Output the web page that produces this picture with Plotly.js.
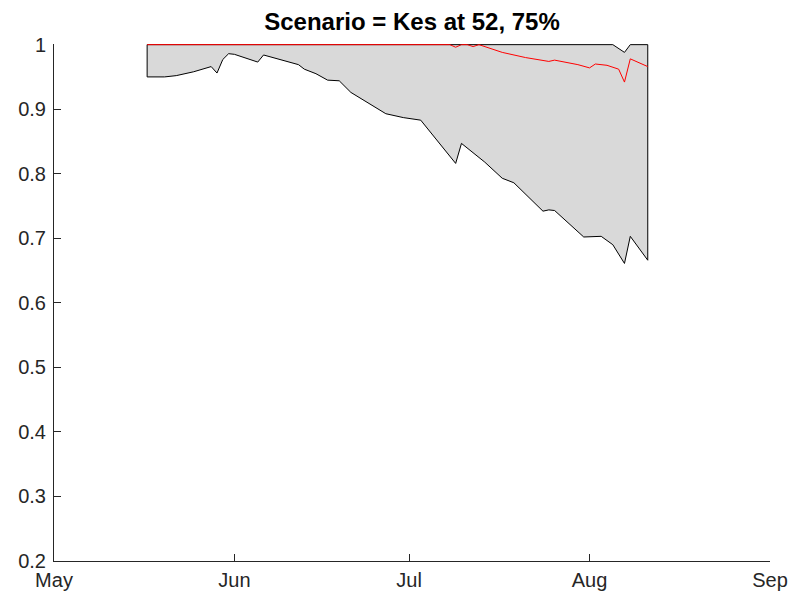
<!DOCTYPE html>
<html>
<head>
<meta charset="utf-8">
<script src="https://cdn.plot.ly/plotly-3.0.1.min.js"></script>
<style>html,body{margin:0;padding:0;background:#fff;}#chart{width:791px;height:601px;}</style>
</head>
<body>
<div id="chart"></div>
<script>
// Lower bound of the shaded band (black line)
var lowerDates = ['2020-05-17','2020-05-20','2020-05-22','2020-05-25','2020-05-28','2020-05-29','2020-05-30','2020-05-31','2020-06-01','2020-06-05','2020-06-06','2020-06-12','2020-06-13','2020-06-15','2020-06-17','2020-06-19','2020-06-21','2020-06-26','2020-06-27','2020-06-30','2020-07-03','2020-07-09','2020-07-10','2020-07-14','2020-07-17','2020-07-19','2020-07-24','2020-07-25','2020-07-26','2020-07-31','2020-08-03','2020-08-05','2020-08-07','2020-08-08','2020-08-11'];
var lowerValues = [0.950,0.950,0.952,0.958,0.966,0.956,0.977,0.986,0.985,0.973,0.984,0.969,0.962,0.955,0.945,0.944,0.926,0.898,0.893,0.887,0.883,0.816,0.847,0.818,0.793,0.786,0.742,0.744,0.743,0.702,0.703,0.690,0.661,0.703,0.666];
// Upper bound of the shaded band
var upperDates = ['2020-05-17','2020-08-05','2020-08-07','2020-08-08','2020-08-11'];
var upperValues = [1.000,1.000,0.988,1.000,1.000];
// Red line
var redDates = ['2020-05-17','2020-07-08','2020-07-09','2020-07-10','2020-07-11','2020-07-12','2020-07-13','2020-07-17','2020-07-21','2020-07-25','2020-07-26','2020-07-30','2020-08-01','2020-08-02','2020-08-04','2020-08-06','2020-08-07','2020-08-08','2020-08-11'];
var redValues = [1.000,1.000,0.996,1.000,1.000,0.997,1.000,0.988,0.980,0.974,0.976,0.969,0.964,0.970,0.968,0.962,0.942,0.978,0.966];
// Axis ticks
var xTickVals = ['2020-05-01','2020-06-01','2020-07-01','2020-08-01','2020-09-01'];
var xTickText = ['May','Jun','Jul','Aug','Sep'];
var yTickVals = [0.2,0.3,0.4,0.5,0.6,0.7,0.8,0.9,1];
var yTickText = ['0.2','0.3','0.4','0.5','0.6','0.7','0.8','0.9','1'];
var titleText = 'Scenario = Kes at 52, 75%';

// Build the closed polygon: lower bound forward, upper bound backward
var polyX = lowerDates.concat(upperDates.slice().reverse());
var polyY = lowerValues.concat(upperValues.slice().reverse());
polyX.push(lowerDates[0]);
polyY.push(lowerValues[0]);

var axisColor = '#262626';
var fontFam = 'Liberation Sans, Arial, Helvetica, sans-serif';
var traces = [
  {x: polyX, y: polyY, type: 'scatter', mode: 'lines', fill: 'toself', fillcolor: '#d9d9d9',
   line: {color: '#000000', width: 1}, hoverinfo: 'skip', showlegend: false},
  {x: redDates, y: redValues, type: 'scatter', mode: 'lines',
   line: {color: '#ff0000', width: 1}, showlegend: false}
];
var layout = {
  width: 791, height: 601,
  margin: {l: 54, r: 21, t: 44, b: 40},
  paper_bgcolor: '#ffffff', plot_bgcolor: '#ffffff',
  showlegend: false,
  title: {text: '<b>' + titleText + '</b>', font: {family: fontFam, size: 24, color: '#000000'},
          x: 0.5, xref: 'paper', xanchor: 'center', y: 1 - 22/601, yref: 'container', yanchor: 'middle'},
  xaxis: {type: 'date', range: ['2020-05-01', '2020-09-01'], tickvals: xTickVals, ticktext: xTickText,
          showgrid: false, zeroline: false, showline: true, linecolor: axisColor, linewidth: 1,
          ticks: 'inside', ticklen: 7, tickcolor: axisColor, tickwidth: 1, ticklabelstandoff: 1,
          tickfont: {family: fontFam, size: 20, color: axisColor}},
  yaxis: {range: [0.2, 1.001], tickvals: yTickVals, ticktext: yTickText,
          showgrid: false, zeroline: false, showline: true, linecolor: axisColor, linewidth: 1,
          ticks: 'inside', ticklen: 7, tickcolor: axisColor, tickwidth: 1, ticklabelstandoff: 3,
          tickfont: {family: fontFam, size: 20, color: axisColor}}
};
Plotly.newPlot('chart', traces, layout, {displayModeBar: false, staticPlot: true});
</script>
</body>
</html>
